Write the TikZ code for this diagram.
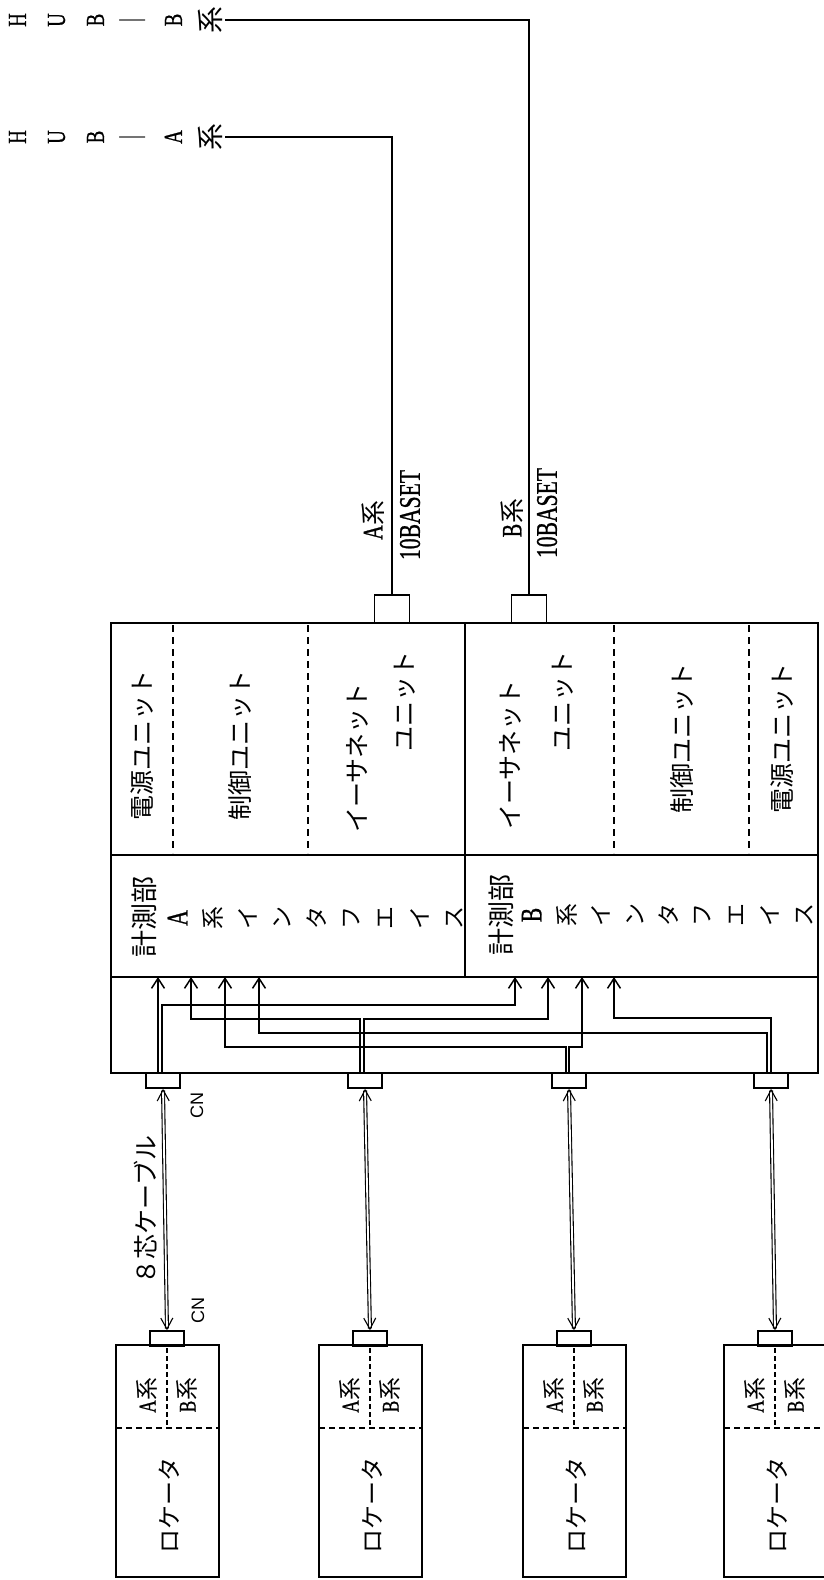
\documentclass[tikz,border=0pt]{standalone}
\usepackage{fontspec}
\setmainfont{Liberation Serif}
\setsansfont{Liberation Sans}
\newfontfamily\jp{Noto Sans CJK JP}
\newfontfamily\cond[FakeStretch=0.72,FakeBold=0.8]{Liberation Serif}
\usetikzlibrary{arrows.meta,calc}
\begin{document}
\begin{tikzpicture}[x=1pt,y=-1pt,
  box/.style={draw, line width=1.7pt},
  wire/.style={line width=1.6pt},
  sig/.style={line width=1.5pt, -{Straight Barb[length=10pt,width=13pt]}},
  divdash/.style={line width=1.5pt, dash pattern=on 7pt off 5pt},
  cnbox/.style={draw, fill=white, line width=1.6pt, minimum width=34pt, minimum height=15pt, inner sep=0pt},
  ethbox/.style={draw, line width=1.6pt, minimum width=35pt, minimum height=28pt, inner sep=0pt},
  cable/.style={line width=1.1pt, double, double distance=1.8pt, arrows={Straight Barb[length=11pt,width=12pt]-Straight Barb[length=11pt,width=12pt]}},
  rot/.style={rotate=90, inner sep=1pt},
  jt/.style={rot, font=\jp\fontsize{25}{30}\selectfont},
  lt/.style={rot, font=\cond\fontsize{28}{28}\selectfont},
  col/.style={rot, align=center, inner sep=2pt}
]
\useasboundingbox (0,0) rectangle (823,1580);
\fill[white] (0,0) rectangle (823,1580);

% ---------- HUB labels ----------
\node[col, font=\cond\fontsize{26}{39}\selectfont] (hubB) at (116,20)
  {H\\U\\B\\{\jp ｜}\\B\\{\jp\fontsize{27}{39}\selectfont 系}};
\node[col, font=\cond\fontsize{26}{39}\selectfont] (hubA) at (116,137)
  {H\\U\\B\\{\jp ｜}\\A\\{\jp\fontsize{27}{39}\selectfont 系}};

% ---------- Ethernet connectors ----------
\node[ethbox] (ethA) at (392,609) {};
\node[ethbox] (ethB) at (529,609) {};
\draw[wire] (hubA.south) -| (ethA.north);
\draw[wire] (hubB.south) -| (ethB.north);

\node[lt] (labA) at (373,520) {A{\jp\fontsize{25}{25}\selectfont 系}};
\node[rot, font=\cond\fontsize{30}{30}\selectfont] (tbA) at (410,515) {10BASET};
\node[lt] (labB) at (512,518) {B{\jp\fontsize{25}{25}\selectfont 系}};
\node[rot, font=\cond\fontsize{30}{30}\selectfont] (tbB) at (547,513) {10BASET};

% ---------- main box ----------
\draw[box] (111,623) rectangle (818,1073);
\draw[box] (111,855) -- (818,855);
\draw[box] (111,977) -- (818,977);
\draw[box] (465,623) -- (465,977);
\draw[divdash] (173,625) -- (173,853);
\draw[divdash] (308,625) -- (308,853);
\draw[divdash] (614,625) -- (614,853);
\draw[divdash] (749,625) -- (749,853);

\node[jt] (pwrA) at (142,745) {電源ユニット};
\node[jt] (ctlA) at (240,745) {制御ユニット};
\node[jt] (ethtA) at (357,758) {イーサネット};
\node[jt] (unA) at (405,701) {ユニット};
\node[jt] (ethtB) at (510,755) {イーサネット};
\node[jt] (unB) at (563,701) {ユニット};
\node[jt] (ctlB) at (682,738) {制御ユニット};
\node[jt] (pwrB) at (782,738) {電源ユニット};

\node[rot, font=\jp\fontsize{27}{27}\selectfont] (msA) at (144,917) {計測部};
\node[col, font=\jp\fontsize{23}{34.4}\selectfont] (ifA) at (315.5,918)
  {{\cond\fontsize{30}{34.4}\selectfont A}\\系\\イ\\ン\\タ\\フ\\エ\\イ\\ス};
\node[rot, font=\jp\fontsize{27}{27}\selectfont] (msB) at (501,915) {計測部};
\node[col, font=\jp\fontsize{23}{33.9}\selectfont] (ifB) at (667.5,915)
  {{\cond\fontsize{30}{33.9}\selectfont B}\\系\\イ\\ン\\タ\\フ\\エ\\イ\\ス};

% ---------- main connectors ----------
\node[cnbox] (cnM1) at (163,1080.5) {};
\node[cnbox] (cnM2) at (365,1080.5) {};
\node[cnbox] (cnM3) at (569,1080.5) {};
\node[cnbox] (cnM4) at (771,1080.5) {};

% arrow tips on interface line
\coordinate (a1) at (158,977);
\coordinate (a2) at (191,977);
\coordinate (a3) at (225,977);
\coordinate (a4) at (259,977);
\coordinate (b1) at (515,977);
\coordinate (b2) at (548,977);
\coordinate (b3) at (582,977);
\coordinate (b4) at (614,977);
% wire levels
\coordinate (h1) at (0,1005);
\coordinate (h2) at (0,1019);
\coordinate (h2b) at (0,1018);
\coordinate (h3) at (0,1033);
\coordinate (h4) at (0,1047);
% wire starts
\coordinate (m1a) at ($(cnM1.north)+(-5,0)$);
\coordinate (m1b) at ($(cnM1.north)+(-1,0)$);
\coordinate (m2a) at ($(cnM2.north)+(-5,0)$);
\coordinate (m2b) at ($(cnM2.north)+(-1,0)$);
\coordinate (m3a) at ($(cnM3.north)+(-3,0)$);
\coordinate (m3b) at ($(cnM3.north)+(0,0)$);
\coordinate (m4a) at ($(cnM4.north)+(-4,0)$);
\coordinate (m4b) at ($(cnM4.north)+(0,0)$);

\draw[sig] (m1a) -- (a1);
\draw[sig] (m1b) -- (m1b |- h1) -| (b1);
\draw[sig] (m2a) -- (m2a |- h2) -| (a2);
\draw[sig] (m2b) -- (m2b |- h2) -| (b2);
\draw[sig] (m3a) -- (m3a |- h4) -| (a3);
\draw[sig] (m3b) -- (m3b |- h4) -| (b3);
\draw[sig] (m4a) -- (m4a |- h3) -| (a4);
\draw[sig] (m4b) -- (m4b |- h2b) -| (b4);

% ---------- locators ----------
\foreach \cx [count=\i] in {167,370,574,775}{
  \node[cnbox] (cnL\i) at (\cx,1338.5) {};
  \draw[box] (\cx-51,1345) rectangle (\cx+52,1577);
  \draw[divdash, dash pattern=on 6pt off 4pt] (\cx-51,1428) -- (\cx+52,1428);
  \draw[divdash, line width=1.3pt, dash pattern=on 5pt off 3pt] (\cx,1348) -- (\cx,1428);
  \node[rot, font=\cond\fontsize{24}{24}\selectfont] (la\i) at (\cx-20,1395) {A{\jp\fontsize{23}{23}\selectfont 系}};
  \node[rot, font=\cond\fontsize{24}{24}\selectfont] (lb\i) at (\cx+20,1395) {B{\jp\fontsize{23}{23}\selectfont 系}};
  \node[jt, font=\jp\fontsize{24}{24}\selectfont] (loc\i) at (\cx+2,1505) {ロケータ};
  \draw[cable] (cnM\i.south) -- (cnL\i.north);
}

\node[rot, font=\sffamily\fontsize{18}{18}\selectfont] (cn1) at (197,1105) {CN};
\node[rot, font=\sffamily\fontsize{18}{18}\selectfont] (cn2) at (198,1310) {CN};
\node[jt] (cab) at (146,1210) {８芯ケーブル};
\end{tikzpicture}
\end{document}
